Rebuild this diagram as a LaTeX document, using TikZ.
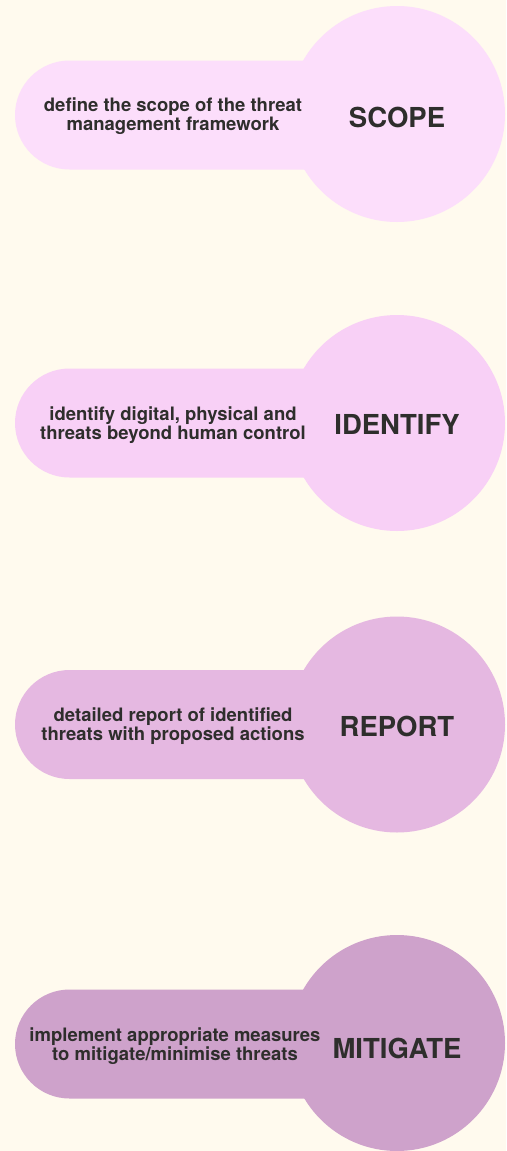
\documentclass[tikz,border=0pt]{standalone}
\usepackage{fontspec}
\setmainfont{TeX Gyre Heros}
\definecolor{bg}{HTML}{FFFAEE}
\definecolor{ink}{HTML}{2E2E2C}
\definecolor{cA}{HTML}{FCDEFB}
\definecolor{cB}{HTML}{F8D0F6}
\definecolor{cC}{HTML}{E5B8E1}
\definecolor{cD}{HTML}{CEA2CB}
\begin{document}
\begin{tikzpicture}[x=1pt,y=1pt,
  pill/.style={rectangle,rounded corners=54.5pt,minimum width=382pt,minimum height=109pt,inner sep=0pt,draw=none},
  bulb/.style={circle,minimum size=216pt,inner sep=0pt,draw=none},
  desc/.style={text=ink,align=center,font=\fontsize{18.5}{17.5}\selectfont\bfseries,inner sep=0pt},
  ttl/.style={text=ink,font=\fontsize{27.5}{30}\selectfont\bfseries,inner sep=0pt}]
\fill[bg] (0,0) rectangle (506,-1151);
\useasboundingbox (0,0) rectangle (506,-1151);
% 1
\node[pill,fill=cA] (p1) at (206,-115) {};
\node[bulb,fill=cA] (c1) at (397,-114) {};
\node[desc] (d1) at (173,-116) {define the scope of the threat\\management framework};
\node[ttl] (t1) at (397,-117) {SCOPE};
% 2
\node[pill,fill=cB] (p2) at (206,-423) {};
\node[bulb,fill=cB] (c2) at (397,-423) {};
\node[desc] (d2) at (173,-425) {identify digital, physical and\\threats beyond human control};
\node[ttl] (t2) at (397,-424) {IDENTIFY};
% 3
\node[pill,fill=cC] (p3) at (206,-724.5) {};
\node[bulb,fill=cC] (c3) at (397,-724.5) {};
\node[desc] (d3) at (173,-726) {detailed report of identified\\threats with proposed actions};
\node[ttl] (t3) at (397,-726) {REPORT};
% 4
\node[pill,fill=cD] (p4) at (206,-1044) {};
\node[bulb,fill=cD] (c4) at (397,-1043) {};
\node[desc] (d4) at (175,-1046) {implement appropriate measures\\to mitigate/minimise threats};
\node[ttl] (t4) at (397,-1048) {MITIGATE};
\end{tikzpicture}
\end{document}
